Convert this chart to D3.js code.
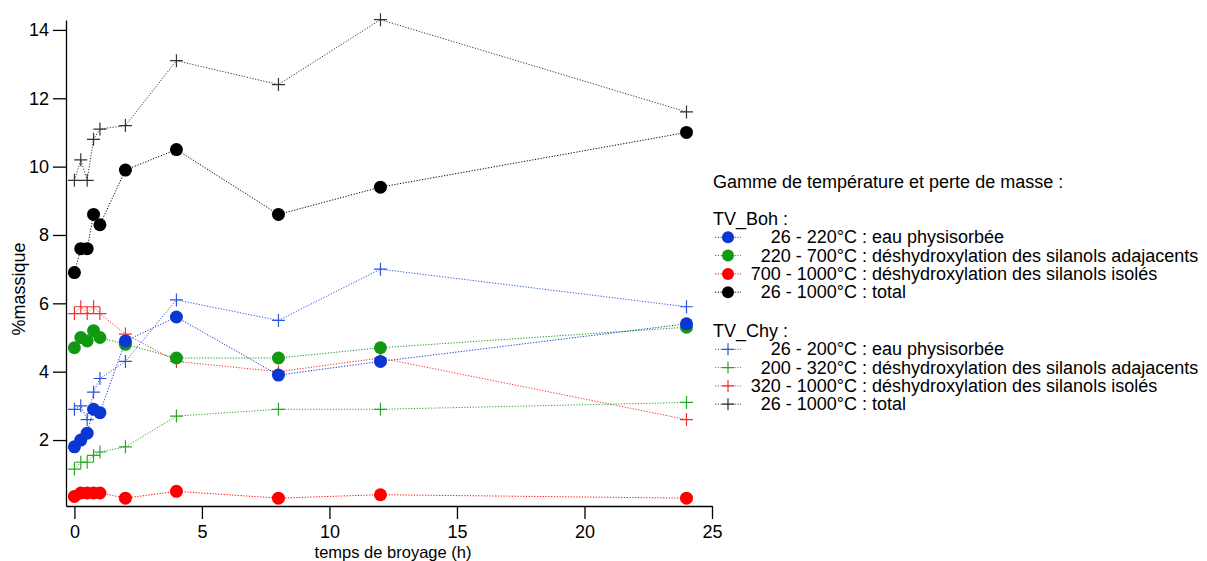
<!DOCTYPE html>
<html>
<head>
<meta charset="utf-8">
<script src="https://cdn.jsdelivr.net/npm/d3@7"></script>
<style>
  body { margin: 0; background: #fff; }
  svg text { font-family: "Liberation Sans", Arial, Helvetica, sans-serif; fill: #000; }
  .axis path, .axis line { stroke: #000; stroke-width: 1.3; }
  .axis text { font-size: 18px; }
</style>
</head>
<body>
<div id="chart"></div>
<script>
// grinding time (h)
let hours = [0, 0.25, 0.5, 0.75, 1, 2, 4, 8, 12, 24];

// TV_Boh (circles)
let bohEau    = [1.8, 2.0, 2.2, 2.9, 2.8, 4.9, 5.6, 3.9, 4.3, 5.4];
let bohAdj    = [4.7, 5.0, 4.9, 5.2, 5.0, 4.8, 4.4, 4.4, 4.7, 5.3];
let bohIso    = [0.35, 0.45, 0.45, 0.45, 0.45, 0.3, 0.5, 0.3, 0.4, 0.3];
let bohTotal  = [6.9, 7.6, 7.6, 8.6, 8.3, 9.9, 10.5, 8.6, 9.4, 11.0];

// TV_Chy (crosses)
let chyEau    = [2.9, 3.0, 2.6, 3.4, 3.8, 4.3, 6.1, 5.5, 7.0, 5.9];
let chyAdj    = [1.15, 1.35, 1.35, 1.55, 1.65, 1.8, 2.7, 2.9, 2.9, 3.1];
let chyIso    = [5.7, 5.9, 5.7, 5.9, 5.7, 5.1, 4.3, 4.0, 4.4, 2.6];
let chyTotal  = [9.6, 10.2, 9.6, 10.8, 11.1, 11.2, 13.1, 12.4, 14.3, 11.6];

let xTicks = [0, 5, 10, 15, 20, 25];
let yTicks = [2, 4, 6, 8, 10, 12, 14];

let legendTitle = "Gamme de température et perte de masse :";
let bohRanges = ["26 - 220°C", "220 - 700°C", "700 - 1000°C", "26 - 1000°C"];
let chyRanges = ["26 - 200°C", "200 - 320°C", "320 - 1000°C", "26 - 1000°C"];
let rangeLabels = [": eau physisorbée", ": déshydroxylation des silanols adajacents",
                   ": déshydroxylation des silanols isolés", ": total"];

// colours per series (eau, adjacents, isolés, total)
let circleColors = ["#0a37d4", "#119911", "#ff0000", "#000000"];
let crossColors  = ["#2a55e0", "#2aa52a", "#f03030", "#333333"];

let width = 1207, height = 561;

let svg = d3.select("#chart")
            .append("svg")
            .attr("width", width)
            .attr("height", height);

let x = d3.scaleLinear().domain([-0.33, 25]).range([66, 712]);
let y = d3.scaleLinear().domain([0.07, 14.29]).range([506, 20]);

// axes
svg.append("g")
    .attr("class", "axis x-axis")
    .attr("transform", "translate(0,506)")
    .call(d3.axisBottom(x).tickValues(xTicks).tickSize(13).tickSizeOuter(0).tickPadding(6).tickFormat(d3.format("d")));

svg.append("g")
    .attr("class", "axis y-axis")
    .attr("transform", "translate(66,0)")
    .call(d3.axisLeft(y).tickValues(yTicks).tickSize(13).tickSizeOuter(0).tickPadding(4).tickFormat(d3.format("d")));

svg.append("text")
    .attr("x", 393)
    .attr("y", 557.5)
    .style("text-anchor", "middle")
    .style("font-size", "16.5px")
    .text("temps de broyage (h)");

svg.append("text")
    .attr("transform", "translate(25,289) rotate(-90)")
    .style("text-anchor", "middle")
    .style("font-size", "18px")
    .text("%massique");

let line = d3.line()
    .x(function(d) { return x(d[0]) })
    .y(function(d) { return y(d[1]) });

function crossPath(cx, cy, s) {
    return "M" + (cx - s) + "," + cy + "H" + (cx + s) + "M" + cx + "," + (cy - s) + "V" + (cy + s);
}

function drawSeries(values, color, marker) {
    let pts = hours.map((h, i) => [h, values[i]]);
    svg.append("path")
        .datum(pts)
        .attr("fill", "none")
        .attr("stroke", color)
        .attr("stroke-width", 1)
        .attr("stroke-dasharray", "1.2,1.6")
        .attr("d", line);
    if (marker == "circle") {
        svg.append("g").selectAll("circle")
            .data(pts)
            .enter()
            .append("circle")
            .attr("cx", d => x(d[0]))
            .attr("cy", d => y(d[1]))
            .attr("r", 6.5)
            .attr("fill", color);
    } else {
        svg.append("g").selectAll("path")
            .data(pts)
            .enter()
            .append("path")
            .attr("d", d => crossPath(x(d[0]), y(d[1]), 6.5))
            .attr("stroke", color)
            .attr("stroke-width", 1.2)
            .attr("fill", "none");
    }
}

// TV_Chy first so the circles sit on top
let chySeries = [chyEau, chyAdj, chyIso, chyTotal];
let bohSeries = [bohEau, bohAdj, bohIso, bohTotal];
[3, 2, 1, 0].forEach(i => drawSeries(chySeries[i], crossColors[i], "cross"));
[3, 2, 1, 0].forEach(i => drawSeries(bohSeries[i], circleColors[i], "circle"));

// legend
let legend = svg.append("g").attr("class", "legend");
legend.append("text").attr("x", 713).attr("y", 188).style("font-size", "18px").text(legendTitle);

function legendBlock(title, top, ranges, colors, marker) {
    legend.append("text").attr("x", 713).attr("y", top).style("font-size", "18px").text(title);
    ranges.forEach((r, i) => {
        let by = top + 18.3 * (i + 1);
        let my = by - 6;
        legend.append("line")
            .attr("x1", 715).attr("x2", 741)
            .attr("y1", my).attr("y2", my)
            .attr("stroke", colors[i])
            .attr("stroke-width", 1)
            .attr("stroke-dasharray", "1.2,1.6");
        if (marker == "circle") {
            legend.append("circle").attr("cx", 728).attr("cy", my).attr("r", 6).attr("fill", colors[i]);
        } else {
            legend.append("path").attr("d", crossPath(728, my, 6))
                .attr("stroke", colors[i]).attr("stroke-width", 1.2);
        }
        legend.append("text").attr("x", 857).attr("y", by)
            .style("font-size", "18px").style("text-anchor", "end").text(r);
        legend.append("text").attr("x", 862).attr("y", by)
            .style("font-size", "18px").text(rangeLabels[i]);
    });
}
legendBlock("TV_Boh :", 225, bohRanges, circleColors, "circle");
legendBlock("TV_Chy :", 337, chyRanges, crossColors, "cross");
</script>
</body>
</html>
